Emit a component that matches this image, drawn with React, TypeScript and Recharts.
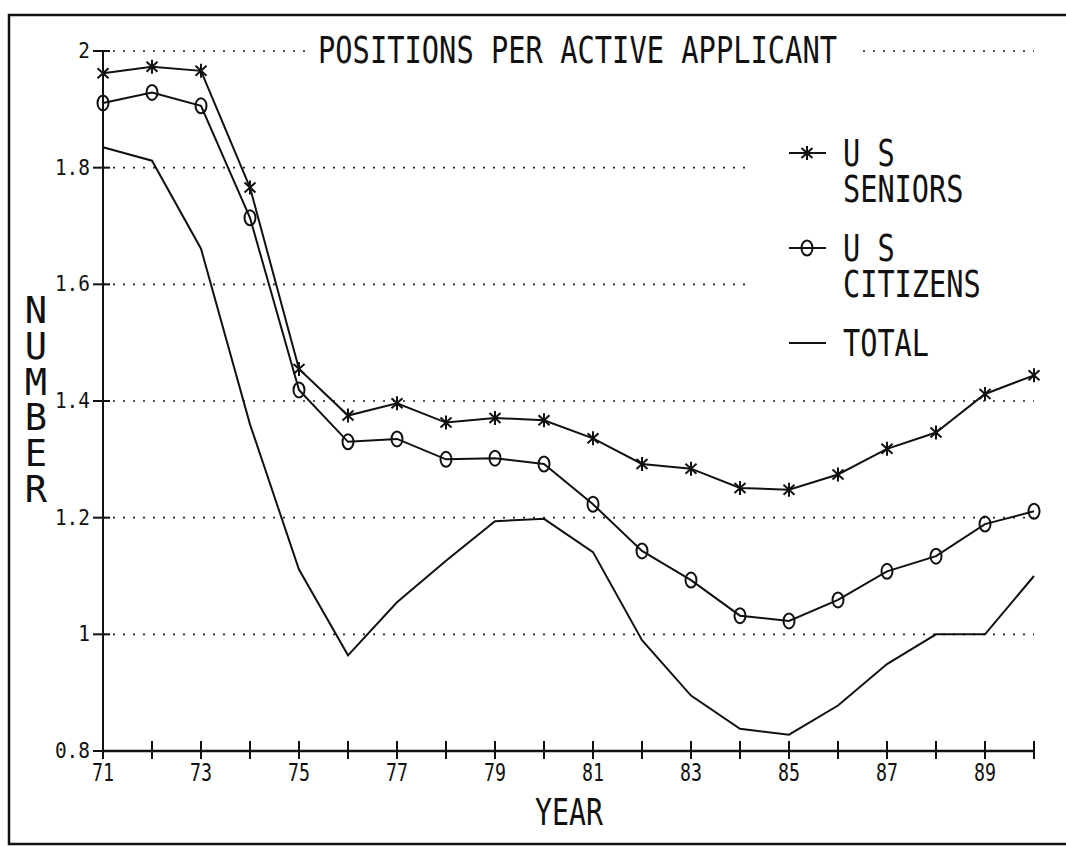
import { LineChart, Line, XAxis, YAxis, CartesianGrid, Legend } from 'recharts';

// values (year 71..90)
const years = [71, 72, 73, 74, 75, 76, 77, 78, 79, 80, 81, 82, 83, 84, 85, 86, 87, 88, 89, 90];
const seniors = [1.962, 1.973, 1.966, 1.766, 1.455, 1.375, 1.396, 1.363, 1.371, 1.367, 1.336, 1.292, 1.284, 1.251, 1.248, 1.274, 1.318, 1.346, 1.412, 1.444];
const citizens = [1.911, 1.929, 1.906, 1.714, 1.419, 1.33, 1.335, 1.3, 1.302, 1.292, 1.223, 1.143, 1.093, 1.032, 1.023, 1.059, 1.108, 1.134, 1.189, 1.211];
const total = [1.835, 1.812, 1.661, 1.36, 1.111, 0.964, 1.055, 1.126, 1.194, 1.198, 1.141, 0.99, 0.895, 0.838, 0.828, 0.878, 0.949, 1.0, 1.0, 1.1];

const yTicks = [0.8, 1, 1.2, 1.4, 1.6, 1.8, 2];
const labelledYears = [71, 73, 75, 77, 79, 81, 83, 85, 87, 89];
const seriesOrder = ['seniors', 'citizens', 'total'];

const TITLE = 'POSITIONS PER ACTIVE APPLICANT';
const Y_TITLE = 'NUMBER';
const X_TITLE = 'YEAR';

const data = years.map((yr, i) => ({ year: yr, seniors: seniors[i], citizens: citizens[i], total: total[i] }));

const FONT = '"DejaVu Sans Mono", monospace';
const INK = '#111';

// plotter-ish narrow text: squeeze glyphs to a fixed advance
function PlotText({ x, y, text, size, charW, anchor = 'start' }: any) {
    return (
        <text x={x} y={y} fontFamily={FONT} fontSize={size} fill={INK} textAnchor={anchor}
            textLength={text.length * charW} lengthAdjust="spacingAndGlyphs">
            {text}
        </text>
    );
}

function Star({ cx, cy }: any) {
    return (
        <g stroke={INK} strokeWidth={2}>
            <line x1={cx} y1={cy - 7} x2={cx} y2={cy + 7} />
            <line x1={cx - 5.5} y1={cy - 5} x2={cx + 5.5} y2={cy + 5} />
            <line x1={cx - 5.5} y1={cy + 5} x2={cx + 5.5} y2={cy - 5} />
        </g>
    );
}

function Oh({ cx, cy }: any) {
    return <ellipse cx={cx} cy={cy} rx={5.5} ry={7.5} fill="none" stroke={INK} strokeWidth={2} />;
}

function XTick({ x, y, payload }: any) {
    const v = payload.value;
    return (
        <g>
            <line x1={x} y1={y - 10} x2={x} y2={y + 8} stroke={INK} strokeWidth={2} />
            {labelledYears.includes(v) && <PlotText x={x} y={y + 30} text={String(v)} size={24} charW={11} anchor="middle" />}
        </g>
    );
}

function YTick({ x, y, payload }: any) {
    return (
        <g>
            <line x1={x - 10} y1={y} x2={x + 7} y2={y} stroke={INK} strokeWidth={2} />
            <PlotText x={x - 13} y={y + 7} text={String(payload.value)} size={21} charW={11.7} anchor="end" />
        </g>
    );
}

function LegendBox({ payload }: any) {
    const items = [...(payload || [])].sort((a: any, b: any) => seriesOrder.indexOf(a.dataKey) - seriesOrder.indexOf(b.dataKey));
    return (
        <svg width={300} height={235}>
            {items.map((item: any, i: number) => {
                const top = 23 + i * 95;
                const lines = String(item.value).split('\n');
                return (
                    <g key={item.dataKey}>
                        <line x1={44} y1={top} x2={81} y2={top} stroke={INK} strokeWidth={2} />
                        {item.dataKey === 'seniors' && <Star cx={62} cy={top} />}
                        {item.dataKey === 'citizens' && <Oh cx={62} cy={top} />}
                        {lines.map((t, j) => (
                            <PlotText key={j} x={98} y={top + j * 36 + 13} text={t} size={37} charW={17.2} />
                        ))}
                    </g>
                );
            })}
        </svg>
    );
}

export default function App() {
    return (
        <div style={{ position: 'absolute', left: 0, top: 0, width: 1066, height: 846, background: '#fff', overflow: 'hidden' }}>
            <LineChart width={1066} height={846} data={data} margin={{ top: 51, right: 32, bottom: 0, left: 0 }}>
                <CartesianGrid vertical={false} stroke="#222" strokeWidth={1.6} strokeDasharray="2 8" />
                <XAxis dataKey="year" type="number" domain={[71, 90]} ticks={years} interval={0}
                    axisLine={{ stroke: INK, strokeWidth: 2.5 }} tickLine={false} tickSize={0} tickMargin={0}
                    tick={<XTick />} height={95} />
                <YAxis type="number" domain={[0.8, 2]} ticks={yTicks} interval={0} width={103}
                    axisLine={{ stroke: INK, strokeWidth: 2 }} tickLine={false} tickSize={0} tickMargin={0}
                    tick={<YTick />} />
                <Legend layout="horizontal" verticalAlign="middle" align="center"
                    wrapperStyle={{ left: 745, top: 130, right: 'auto', bottom: 'auto', width: 300, height: 235, background: '#fff' }}
                    content={(p: any) => <LegendBox payload={p.payload} />} />
                <Line type="linear" dataKey="seniors" name={'U S\nSENIORS'} stroke={INK} strokeWidth={2}
                    dot={(p: any) => <Star key={p.index} cx={p.cx} cy={p.cy} />} isAnimationActive={false} />
                <Line type="linear" dataKey="citizens" name={'U S\nCITIZENS'} stroke={INK} strokeWidth={2}
                    dot={(p: any) => <Oh key={p.index} cx={p.cx} cy={p.cy} />} isAnimationActive={false} />
                <Line type="linear" dataKey="total" name="TOTAL" stroke={INK} strokeWidth={2}
                    dot={false} isAnimationActive={false} />
            </LineChart>
            <svg width={1066} height={846} style={{ position: 'absolute', left: 0, top: 0, pointerEvents: 'none' }}>
                {/* scanned page frame: left, top and bottom edges only */}
                <path d="M1066 15 H9 V844 H1066" fill="none" stroke={INK} strokeWidth={2.5} />
                <rect x={312} y={36} width={545} height={30} fill="#fff" />
                <PlotText x={318} y={63} text={TITLE} size={37} charW={17.3} />
                <text fontFamily={FONT} fontSize={37} fill={INK} textAnchor="middle">
                    {Y_TITLE.split('').map((ch, i) => (
                        <tspan key={i} x={36} y={323 + i * 35.8}>{ch}</tspan>
                    ))}
                </text>
                <PlotText x={569} y={825} text={X_TITLE} size={37} charW={17} anchor="middle" />
            </svg>
        </div>
    );
}
